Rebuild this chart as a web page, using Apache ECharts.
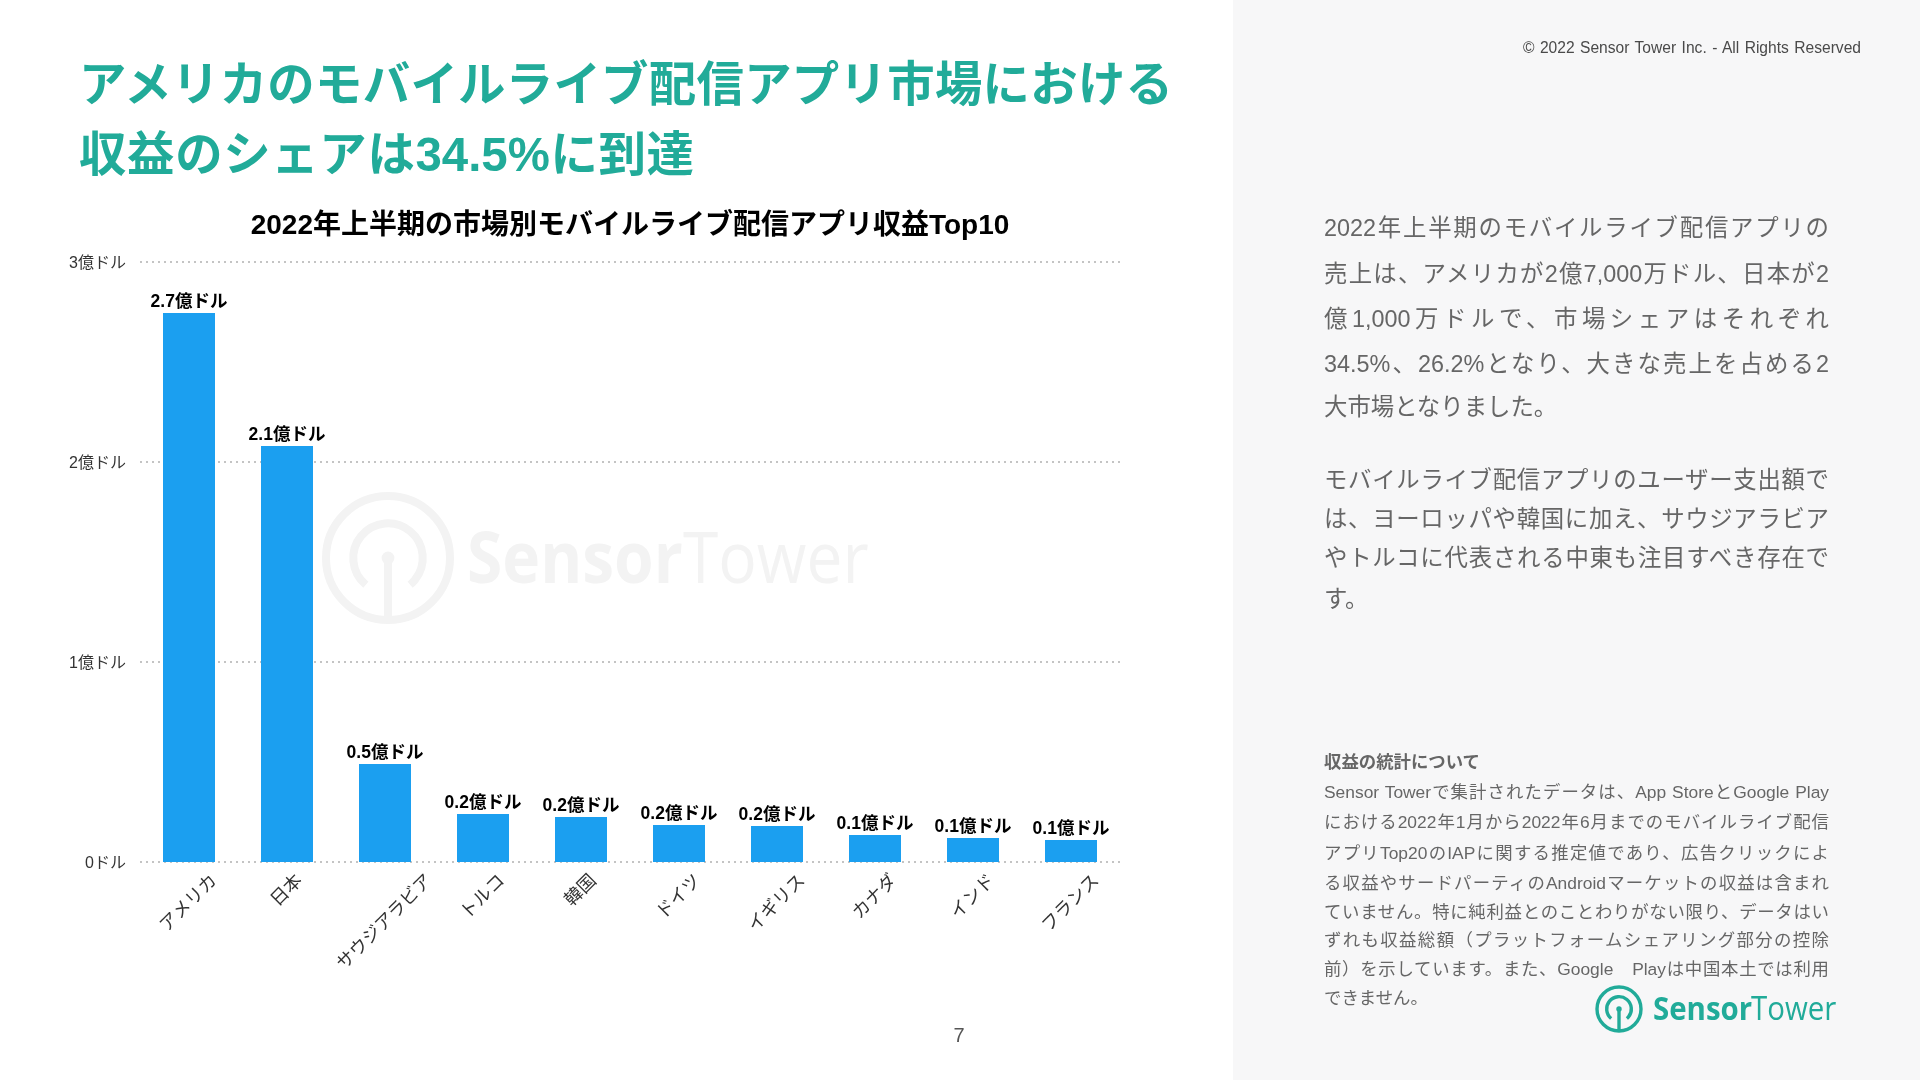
<!DOCTYPE html>
<html lang="ja">
<head>
<meta charset="utf-8">
<title>モバイルライブ配信アプリ収益</title>
<script src="https://cdn.jsdelivr.net/npm/echarts@6/dist/echarts.min.js"></script>
<style>
html, body { margin: 0; padding: 0; width: 1920px; height: 1080px; overflow: hidden; background: #fff; }
body, div { font-family: "Liberation Sans", "Noto Sans CJK JP", sans-serif; }
#panel { position: absolute; left: 1233px; top: 0; width: 687px; height: 1080px; background: #f7f7f8; }
#chart { position: absolute; left: 0; top: 0; width: 1920px; height: 1080px; }
.ln { position: absolute; white-space: nowrap; }
.head { left: 79px; width: 1094px; height: 60px; line-height: 60px; font-size: 47.4px; font-weight: 700; color: #21ab99; text-align-last: justify; }
.para { left: 1324px; width: 505px; height: 36px; line-height: 36px; font-size: 23.4px; color: #666; text-align-last: justify; }
.note { left: 1324px; width: 505px; height: 26px; line-height: 26px; font-size: 17.4px; color: #666; text-align-last: justify; }
.end { width: auto; text-align-last: left; }
#copy { left: 1523px; top: 38px; width: 338px; height: 20px; line-height: 20px; font-size: 15.6px; color: #4a4a4a; text-align-last: justify; }
#page { left: 949px; top: 1023px; width: 20px; height: 24px; line-height: 24px; font-size: 20px; color: #555; text-align: center; }
</style>
</head>
<body>
<div id="panel"></div>
<div id="chart"></div>

<div class="ln head" style="top:55px">アメリカのモバイルライブ配信アプリ市場における</div>
<div class="ln head" style="top:125px;width:615px">収益のシェアは34.5%に到達</div>

<div class="ln" id="copy">© 2022 Sensor Tower Inc. - All Rights Reserved</div>
<div class="ln" id="page">7</div>

<div class="ln para" style="top:210px">2022年上半期のモバイルライブ配信アプリの</div>
<div class="ln para" style="top:256px">売上は、アメリカが2億7,000万ドル、日本が2</div>
<div class="ln para" style="top:301px">億1,000万ドルで、市場シェアはそれぞれ</div>
<div class="ln para" style="top:346px">34.5%、26.2%となり、大きな売上を占める2</div>
<div class="ln para end" style="top:389px">大市場となりました。</div>

<div class="ln para" style="top:462px">モバイルライブ配信アプリのユーザー支出額で</div>
<div class="ln para" style="top:501px">は、ヨーロッパや韓国に加え、サウジアラビア</div>
<div class="ln para" style="top:540px">やトルコに代表される中東も注目すべき存在で</div>
<div class="ln para end" style="top:581px">す。</div>

<div class="ln note end" style="top:749px;font-weight:700">収益の統計について</div>
<div class="ln note" style="top:779px">Sensor Towerで集計されたデータは、App StoreとGoogle Play</div>
<div class="ln note" style="top:809px">における2022年1月から2022年6月までのモバイルライブ配信</div>
<div class="ln note" style="top:840px">アプリTop20のIAPに関する推定値であり、広告クリックによ</div>
<div class="ln note" style="top:870px">る収益やサードパーティのAndroidマーケットの収益は含まれ</div>
<div class="ln note" style="top:899px">ていません。特に純利益とのことわりがない限り、データはい</div>
<div class="ln note" style="top:927px">ずれも収益総額（プラットフォームシェアリング部分の控除</div>
<div class="ln note" style="top:956px">前）を示しています。また、Google　Playは中国本土では利用</div>
<div class="ln note end" style="top:985px">できません。</div>

<script>
var categories = ["アメリカ", "日本", "サウジアラビア", "トルコ", "韓国", "ドイツ", "イギリス", "カナダ", "インド", "フランス"];
// 単位：億ドル
var revenue = [2.745, 2.08, 0.49, 0.24, 0.225, 0.185, 0.18, 0.135, 0.12, 0.11];
var value_labels = ["2.7億ドル", "2.1億ドル", "0.5億ドル", "0.2億ドル", "0.2億ドル", "0.2億ドル", "0.2億ドル", "0.1億ドル", "0.1億ドル", "0.1億ドル"];
var y_labels = ["0ドル", "1億ドル", "2億ドル", "3億ドル"];

var font = '"Liberation Sans", "Noto Sans CJK JP", sans-serif';
var cat_size = 18;

// ロゴ（透かしと右下で共用）
function logo(o) {
    var stroke = { fill: "none", stroke: o.color, lineWidth: o.ring };
    return [
        { type: "circle", z: o.z, shape: { cx: o.x, cy: o.y, r: o.r }, style: stroke },
        { type: "arc", z: o.z, shape: { cx: o.x, cy: o.y, r: o.r * 0.56, startAngle: Math.PI * 0.72, endAngle: Math.PI * 2.28, clockwise: true }, style: stroke },
        { type: "circle", z: o.z, shape: { cx: o.x, cy: o.y, r: o.ring * 0.8 }, style: { fill: o.color } },
        { type: "line", z: o.z, shape: { x1: o.x, y1: o.y, x2: o.x, y2: o.y + o.r }, style: { stroke: o.color, lineWidth: o.ring } },
        { type: "text", z: o.z, x: o.sensorX, y: o.base, scaleX: o.sx, style: { text: "Sensor", x: 0, y: 0, fill: o.color, font: "700 " + o.size + 'px "Open Sans"', verticalAlign: "bottom" } },
        { type: "text", z: o.z, x: o.towerX, y: o.base, scaleX: o.sx, style: { text: "Tower", x: 0, y: 0, fill: o.color, font: "400 " + o.size + 'px "Open Sans"', verticalAlign: "bottom" } }
    ];
}

// 回転ラベルの上端をそろえるための余白
var rich = {};
categories.forEach(function (name) {
    var half = name.length * cat_size / 2;
    rich["n" + name.length] = { padding: [half, half, 0, 0], fontSize: cat_size, fontFamily: font, color: "#333" };
});

var chart = echarts.init(document.getElementById("chart"), null, { renderer: "canvas" });
var option = {
    backgroundColor: "transparent",
    animation: false,
    title: {
        text: "2022年上半期の市場別モバイルライブ配信アプリ収益Top10",
        left: 625,
        top: 207,
        textAlign: "center",
        textStyle: { fontFamily: font, fontSize: 28, fontWeight: "bold", color: "#000" }
    },
    grid: { left: 140, right: 800, top: 262, bottom: 218 },
    xAxis: {
        type: "category",
        data: categories,
        axisLine: { show: false },
        axisTick: { show: false },
        axisLabel: {
            interval: 0,
            rotate: 45,
            align: "center",
            verticalAlign: "middle",
            margin: 16,
            formatter: function (v) {
                return "{n" + v.length + "|" + v + "}";
            },
            rich: rich
        }
    },
    yAxis: {
        type: "value",
        min: 0,
        max: 3,
        interval: 1,
        axisLine: { show: false },
        axisTick: { show: false },
        axisLabel: {
            margin: 14,
            lineHeight: 22,
            verticalAlign: "top",
            padding: [-9, 0, 0, 0],
            fontFamily: font,
            fontSize: 16,
            color: "#333",
            formatter: function (v) {
                return y_labels[v];
            }
        },
        splitLine: { lineStyle: { type: [2, 4], width: 2, color: "#c4c4c4" } }
    },
    series: [{
        type: "bar",
        data: revenue,
        barWidth: 52,
        itemStyle: { color: "#1b9ff0" },
        label: {
            show: true,
            position: "top",
            distance: 2,
            fontFamily: font,
            fontSize: 17.5,
            fontWeight: "bold",
            color: "#000",
            formatter: function (p) {
                return value_labels[p.dataIndex];
            }
        }
    }],
    graphic: logo({ x: 388, y: 558, r: 62, ring: 8, color: "#f3f3f3", size: 72, sx: 0.89, sensorX: 467, towerX: 683, base: 598, z: 0 })
        .concat(logo({ x: 1619, y: 1009, r: 22, ring: 3.4, color: "#21ab99", size: 32, sx: 0.92, sensorX: 1653, towerX: 1751, base: 1027, z: 5 }))
};
chart.setOption(option);
</script>
</body>
</html>
